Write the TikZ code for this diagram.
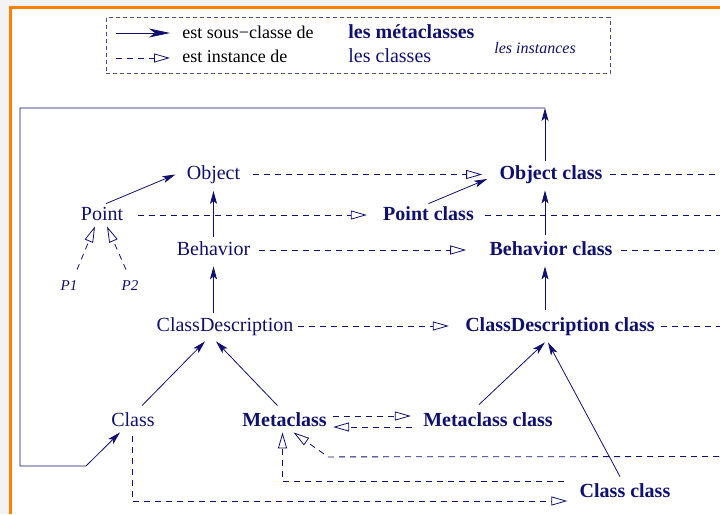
\documentclass[tikz,border=0pt]{standalone}
\usepackage{fontspec}
\setmainfont{Liberation Serif}
\usetikzlibrary{arrows.meta,calc}
\definecolor{ink}{RGB}{16,16,112}
\definecolor{frameorange}{RGB}{255,128,0}
\definecolor{pagegray}{RGB}{243,243,243}

\begin{document}
\begin{tikzpicture}[x=1pt, y=-1pt, line width=0.8pt,
cls/.style={text=ink, font=\fontsize{20}{24}\selectfont, text height=14pt, text depth=4pt, inner xsep=4pt, inner ysep=4pt, anchor=base},
meta/.style={cls, font=\fontsize{20}{24}\selectfont\bfseries},
obj/.style={text=ink, font=\fontsize{15}{18}\selectfont\itshape, text height=11pt, text depth=3pt, inner sep=3pt, anchor=base},
legendtext/.style={font=\fontsize{18}{22}\selectfont, inner sep=0pt, anchor=base west},
isa/.style={draw=ink, -{Stealth[length=13pt, width=7pt, inset=3pt]}},
inst/.style={draw=ink, dash pattern=on 6pt off 5pt, -{Triangle[open, length=16pt, width=9pt]}},
instline/.style={draw=ink, dash pattern=on 6pt off 5pt}]
\useasboundingbox (0,0) rectangle (720,514);
\clip (0,0) rectangle (720,514);
\fill[pagegray] (0,0) rectangle (720,514);
\fill[white] (12,9) rectangle (720,514);
\draw[frameorange, line width=3pt] (10.5,514) -- (10.5,7.5) -- (720,7.5);

\draw[ink!75, dash pattern=on 4pt off 3pt] (106,17.5) rectangle (610,73.5);
\node[legendtext] (lsub) at (182,38) {est sous−classe de};
\node[legendtext] (linst) at (182,62) {est instance de};
\node[legendtext, text=ink, font=\fontsize{20}{24}\selectfont\bfseries] (lmeta) at (348,38) {les métaclasses};
\node[legendtext, text=ink, font=\fontsize{20}{24}\selectfont] (lcls) at (348,62) {les classes};
\node[legendtext, text=ink, font=\fontsize{16}{19}\selectfont\itshape] (linstances) at (494,53) {les instances};
\coordinate (k1) at (116,33);
\coordinate (k2) at (116,58);
\draw[draw=ink, -{Stealth[length=21pt, width=9pt, inset=6pt]}, shorten >=12pt] (k1) -- (k1 -| lsub.west);
\draw[inst, shorten >=12pt] (k2) -- (k2 -| linst.west);

\node[cls] (obj) at (213.5,179.5) {Object};
\node[meta] (objc) at (551,179) {Object class};
\node[cls] (pt) at (102,220) {Point};
\node[meta] (ptc) at (428.5,220) {Point class};
\node[cls] (beh) at (213.5,255) {Behavior};
\node[meta] (behc) at (551,255) {Behavior class};
\node[obj] (p1) at (69,290) {P1};
\node[obj] (p2) at (130,290) {P2};
\node[cls] (cd) at (225,331) {ClassDescription};
\node[meta] (cdc) at (560,331) {ClassDescription class};
\node[cls] (cl) at (133,426) {Class};
\node[meta] (mc) at (284.5,426) {Metaclass};
\node[meta] (mcc) at (488,426) {Metaclass class};
\node[meta] (clc) at (625,497) {Class class};
\coordinate (loopA) at (545,108);
\coordinate (loopB) at (20,466);
\coordinate (loopC) at (86,466);
\coordinate (farright) at (730,456.5);

\draw[isa] ($(pt.north)+(4,2)$) -- ($(obj.west)+(-7,0)$);
\draw[isa, shorten >=3pt] (beh.north) -- (obj.south);
\draw[isa, shorten >=3pt] (beh.south |- cd.north) -- (beh.south);
\draw[isa] ($(cl.north)+(9,-2)$) -- ($(cd.south)+(-20,2)$);
\draw[isa] ($(mc.north)+(-7,-2)$) -- ($(cd.south)+(-9,2)$);
\draw[isa] ($(ptc.north)+(0,2)$) -- ($(objc.west)+(-8,5)$);
\draw[isa] ($(behc.north)+(-6,-2)$) -- ($(objc.south)+(-6,3)$);
\draw[isa] ($(cdc.north)+(-15,-3)$) -- ($(behc.south)+(-6,3)$);
\draw[isa] ($(mcc.north)+(-9,-3)$) -- ($(cdc.south)+(-15,3)$);
\draw[isa] ($(clc.north)+(-5,-2)$) -- ($(cdc.south)+(-12,3)$);
\draw[isa] ($(objc.north)+(-6,0)$) -- (loopA);
\draw[isa] (loopA) -| (loopB) -- (loopC) -- ($(cl.south)+(-13,-2)$);

\draw[inst, shorten <=8pt, shorten >=13pt] (obj.east) -- (obj.east -| objc.west);
\draw[inst, shorten <=10pt, shorten >=12pt] (pt.east) -- (pt.east -| ptc.west);
\draw[inst, shorten <=4pt, shorten >=19pt] (beh.east) -- (beh.east -| behc.west);
\draw[inst, shorten >=12pt] (cd.east) -- (cd.east -| cdc.west);
\draw[inst] ($(p1.north)+(8,-6)$) -- ($(pt.south)+(-7,-2)$);
\draw[inst] ($(p2.north)+(-4,-6)$) -- ($(pt.south)+(5,-2)$);
\draw[inst] ($(mc.east)+(2,-5)$) -- ($(mcc.west)+(-8,-5)$);
\draw[inst] ($(mcc.west)+(-7,6)$) -- ($(mc.east)+(2,6)$);
\draw[inst] ($(cl.south)+(-1,2)$) |- ($(clc.west)+(-8,9)$);
\draw[inst] ($(clc.west)+(-11,-11)$) -| ($(mc.south)+(-2,-2)$);
\draw[inst] (farright) -- ($(mc.south east)+(-3,22.5)$) -- ($(mc.south)+(9,-2)$);
\draw[instline, shorten <=3pt] (objc.east) -- (objc.east -| farright);
\draw[instline, shorten <=7pt] (ptc.east) -- (ptc.east -| farright);
\draw[instline, shorten <=4pt] (behc.east) -- (behc.east -| farright);
\draw[instline, shorten <=2pt] (cdc.east) -- (cdc.east -| farright);
\draw[instline] (objc.east -| farright) -- (farright);
\end{tikzpicture}
\end{document}
